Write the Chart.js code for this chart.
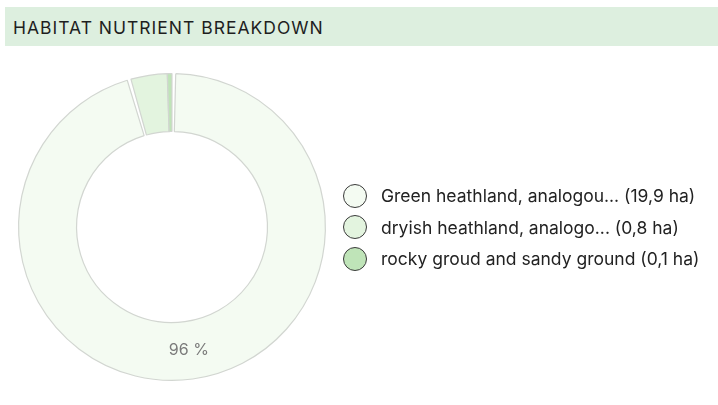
<!DOCTYPE html>
<html>
<head>
<meta charset="utf-8">
<script src="https://cdn.jsdelivr.net/npm/chart.js@4/dist/chart.umd.min.js"></script>
<style>
    body { margin: 0; background: #fff; width: 718px; height: 405px; overflow: hidden; }
    .header {
        position: absolute; left: 5px; top: 7px; width: 713px; height: 39px;
        background: #ddefdf; font-family: Inter, sans-serif; font-size: 17.5px; letter-spacing: 1px;
        color: #1e1e1e; line-height: 42px; padding-left: 8px; box-sizing: border-box;
    }
    .chart-box { position: absolute; left: 0; top: 46px; width: 718px; height: 359px; }
    #legend {
        position: absolute; left: 343px; top: 180px; margin: 0; padding: 0; list-style: none;
        font-family: Inter, sans-serif; font-size: 17.5px; color: #222;
    }
    #legend li { display: flex; align-items: center; height: 31.5px; white-space: nowrap; }
    #legend .dot {
        width: 22px; height: 22px; border-radius: 50%; border: 1.2px solid #3a3a3a;
        margin-right: 14px; flex: none;
    }
</style>
</head>
<body>
<div class="header">HABITAT NUTRIENT BREAKDOWN</div>
<div class="chart-box"><canvas id="habitat-chart"></canvas></div>
<ul id="legend"></ul>
<script>
const habitatNames = ["Green heathland, analogou...", "dryish heathland, analogo...", "rocky groud and sandy ground"];
const habitatAreas = [19.9, 0.8, 0.1];
const sliceColors = ["#f4fbf2", "#e3f4df", "#bfe4b8"];

document.addEventListener("DOMContentLoaded", () => {
    const ctx = document.getElementById("habitat-chart").getContext("2d");
    const legendList = document.getElementById("legend");
    const total = habitatAreas.reduce((a, b) => a + b, 0);

    // percentage text inside the big slices
    const percentLabels = {
        id: "percentLabels",
        afterDatasetsDraw(chart) {
            const meta = chart.getDatasetMeta(0);
            const c = chart.ctx;
            c.save();
            c.font = "16px Inter, sans-serif";
            c.fillStyle = "#7a7a7a";
            c.textAlign = "center";
            c.textBaseline = "middle";
            meta.data.forEach((arc, i) => {
                const pct = habitatAreas[i] / total * 100;
                if (pct < 5) return;
                const pos = arc.tooltipPosition();
                c.fillText(Math.round(pct) + " %", pos.x, pos.y);
            });
            c.restore();
        }
    };

    // html legend built from the chart's own legend items
    const htmlLegend = {
        id: "htmlLegend",
        afterUpdate(chart) {
            legendList.innerHTML = "";
            const items = chart.options.plugins.legend.labels.generateLabels(chart);
            items.forEach((item, i) => {
                const li = document.createElement("li");
                li.innerHTML = `<span class="dot" style="background:${item.fillStyle}"></span>` +
                    `<span>${habitatNames[i]} (${habitatAreas[i].toFixed(1).replace(".", ",")} ha)</span>`;
                legendList.appendChild(li);
            });
        }
    };

    new Chart(ctx, {
        type: "doughnut",
        data: {
            labels: habitatNames,
            datasets: [{
                data: habitatAreas,
                backgroundColor: sliceColors,
                borderColor: "#d2d6d1",
                borderWidth: 1.2,
                spacing: 2
            }]
        },
        options: {
            responsive: true,
            maintainAspectRatio: false,
            animation: false,
            cutout: "62%",
            layout: { padding: { left: 18, right: 392, top: 27, bottom: 24 } },
            plugins: {
                tooltip: { enabled: false },
                legend: { display: false }
            }
        },
        plugins: [percentLabels, htmlLegend]
    });
});
</script>
</body>
</html>
